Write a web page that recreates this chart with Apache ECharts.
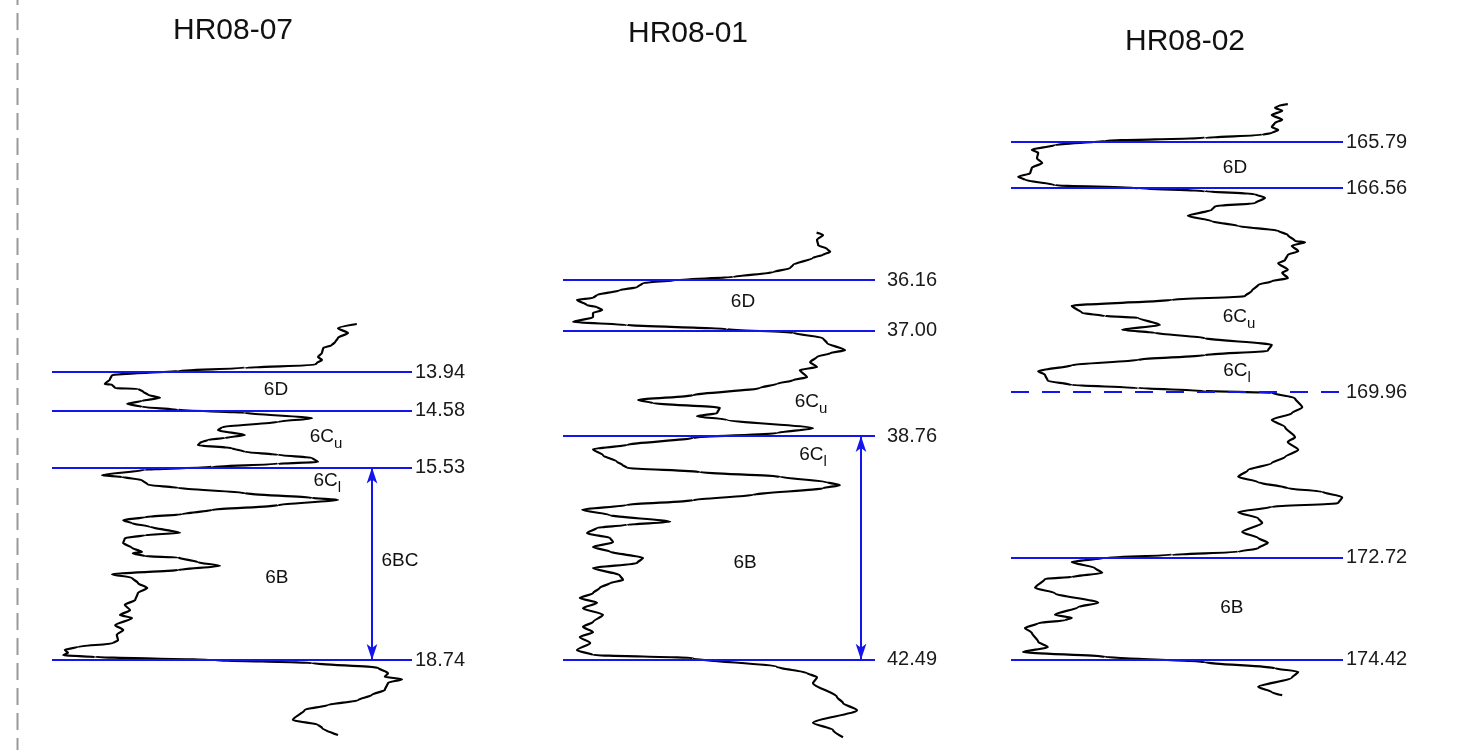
<!DOCTYPE html>
<html>
<head>
<meta charset="utf-8">
<script src="https://cdn.jsdelivr.net/npm/echarts@6/dist/echarts.min.js"></script>
<style>
  html, body { margin: 0; padding: 0; background: #ffffff; }
  #chart { width: 1470px; height: 750px; }
</style>
</head>
<body>
<div id="chart"></div>
<script>
// Core names, left to right
const coreNames = ['HR08-07', 'HR08-01', 'HR08-02'];

// Down-core logs: [value, depth (m)]
const hr0807Log = [
  [76.2,13.14],[71.5,13.21],[74.0,13.29],[71.5,13.37],[70.8,13.44],[70.0,13.49],[67.8,13.54],
  [67.5,13.62],[66.5,13.69],[67.5,13.74],[66.2,13.79],[65.8,13.82],[48.2,13.87],[31.5,13.92],
  [15.0,13.99],[14.5,14.06],[13.2,14.14],[15.0,14.15],[15.8,14.21],[21.5,14.22],[22.8,14.27],
  [24.0,14.32],[27.0,14.37],[22.5,14.42],[18.8,14.47],[22.5,14.52],[31.5,14.57],[48.2,14.62],
  [65.0,14.71],[56.5,14.77],[42.5,14.86],[41.5,14.91],[48.2,14.99],[43.2,15.04],[39.0,15.07],
  [37.0,15.12],[36.5,15.16],[45.0,15.21],[48.2,15.27],[56.5,15.32],[65.0,15.37],[66.5,15.44],
  [56.5,15.47],[40.0,15.52],[23.2,15.57],[12.5,15.66],[17.5,15.69],[22.5,15.74],[24.0,15.82],
  [31.5,15.87],[48.2,15.96],[65.0,16.04],[71.5,16.07],[56.5,16.16],[40.0,16.24],[32.5,16.31],
  [23.2,16.36],[17.8,16.41],[20.0,16.46],[24.5,16.52],[32.0,16.62],[23.2,16.66],[18.2,16.71],
  [17.8,16.79],[20.0,16.87],[22.5,16.94],[20.2,16.96],[23.2,17.01],[31.5,17.03],[36.5,17.11],
  [42.0,17.17],[31.5,17.24],[15.0,17.31],[20.0,17.37],[21.5,17.46],[23.8,17.54],[21.5,17.62],
  [20.8,17.74],[18.2,17.82],[19.5,17.91],[17.0,17.99],[20.0,18.04],[15.8,18.16],[17.8,18.24],
  [16.2,18.32],[16.5,18.41],[15.2,18.46],[6.5,18.52],[3.2,18.57],[4.0,18.62],[2.8,18.66],
  [10.8,18.69],[40.0,18.74],[65.0,18.79],[81.5,18.87],[84.0,18.96],[83.2,19.02],[87.5,19.06],
  [84.0,19.12],[83.2,19.24],[80.0,19.32],[76.5,19.41],[69.0,19.49],[63.2,19.57],[60.2,19.74],
  [66.5,19.82],[67.5,19.87],[71.5,19.99]
];

const hr0801Log = [
  [63.4,35.37],[65.0,35.41],[63.5,35.49],[63.8,35.58],[66.0,35.64],[66.8,35.69],[65.0,35.74],
  [62.5,35.79],[57.5,35.91],[56.8,35.96],[52.5,36.03],[42.5,36.11],[28.5,36.16],[20.0,36.21],
  [18.5,36.28],[14.2,36.33],[8.5,36.41],[7.5,36.46],[3.5,36.49],[6.0,36.58],[8.5,36.61],
  [9.8,36.66],[7.5,36.71],[7.5,36.78],[2.5,36.86],[16.0,36.91],[41.0,36.98],[57.5,37.04],
  [65.0,37.13],[66.0,37.21],[70.5,37.33],[66.8,37.38],[63.5,37.44],[61.8,37.53],[63.5,37.61],
  [59.2,37.66],[61.0,37.78],[57.5,37.83],[53.5,37.89],[49.2,37.96],[32.5,38.08],[18.8,38.16],
  [22.5,38.21],[39.2,38.29],[38.5,38.38],[33.5,38.43],[41.0,38.49],[62.5,38.63],[53.5,38.71],
  [32.5,38.79],[16.0,38.91],[7.5,38.98],[10.0,39.08],[13.5,39.19],[14.8,39.24],[16.0,39.29],
  [34.2,39.36],[54.2,39.44],[66.0,39.53],[69.2,39.58],[65.0,39.63],[47.5,39.74],[32.5,39.83],
  [16.0,39.91],[4.8,39.99],[11.8,40.08],[26.8,40.19],[16.0,40.24],[8.5,40.29],[6.0,40.38],
  [11.8,40.46],[12.5,40.53],[7.5,40.61],[11.8,40.69],[20.0,40.79],[18.5,40.88],[7.5,40.96],
  [14.2,41.08],[15.0,41.16],[11.8,41.21],[9.2,41.29],[7.5,41.38],[4.2,41.46],[8.5,41.54],
  [5.0,41.63],[10.0,41.74],[7.5,41.86],[5.0,41.94],[7.5,42.03],[4.2,42.11],[6.8,42.21],
  [3.5,42.33],[7.5,42.41],[32.5,42.46],[53.5,42.61],[61.0,42.71],[63.5,42.78],[62.5,42.88],
  [68.5,43.11],[70.0,43.21],[73.5,43.33],[62.5,43.54],[67.5,43.66],[70.0,43.78]
];

const hr0802Log = [
  [69.2,165.16],[66.8,165.19],[66.0,165.22],[67.8,165.27],[65.2,165.34],[67.8,165.42],[66.0,165.47],
  [65.2,165.54],[66.8,165.59],[65.2,165.64],[62.8,165.67],[48.5,165.72],[23.5,165.77],[11.0,165.84],
  [5.2,165.92],[6.8,165.97],[6.5,166.06],[7.8,166.14],[5.2,166.22],[4.8,166.31],[1.8,166.37],
  [3.5,166.42],[11.0,166.51],[31.8,166.56],[48.5,166.61],[61.0,166.66],[63.5,166.72],[61.0,166.81],
  [51.0,166.86],[50.2,166.92],[44.2,167.02],[50.2,167.11],[56.8,167.19],[66.8,167.27],[69.2,167.34],
  [71.0,167.44],[73.5,167.46],[70.2,167.52],[71.8,167.61],[69.2,167.67],[68.5,167.76],[66.8,167.81],
  [69.2,167.92],[67.8,167.97],[69.2,168.06],[65.2,168.11],[61.8,168.17],[60.2,168.27],[58.5,168.36],
  [40.2,168.42],[15.2,168.52],[17.8,168.64],[23.5,168.69],[31.8,168.72],[37.2,168.84],[27.8,168.92],
  [36.0,168.97],[48.5,169.06],[65.2,169.17],[64.2,169.27],[48.5,169.34],[31.8,169.42],[15.2,169.51],
  [6.8,169.61],[8.5,169.67],[9.2,169.77],[15.2,169.84],[31.8,169.89],[48.5,169.94],[65.2,169.97],
  [71.0,170.06],[72.8,170.21],[70.2,170.31],[65.2,170.42],[68.5,170.54],[71.0,170.71],[69.2,170.79],
  [71.8,170.92],[68.5,171.04],[65.2,171.14],[59.2,171.26],[56.8,171.37],[61.8,171.46],[69.2,171.56],
  [77.8,171.62],[82.8,171.71],[81.8,171.81],[65.2,171.87],[56.8,171.96],[61.8,172.06],[62.8,172.14],
  [57.8,172.29],[61.8,172.39],[64.2,172.47],[61.8,172.56],[56.8,172.62],[40.2,172.67],[23.5,172.72],
  [15.2,172.79],[21.0,172.89],[22.8,172.97],[15.2,173.04],[8.5,173.07],[6.0,173.22],[11.0,173.31],
  [21.8,173.47],[16.8,173.54],[11.0,173.67],[15.2,173.72],[13.5,173.76],[6.8,173.81],[3.5,173.89],
  [5.2,173.97],[6.8,174.12],[9.2,174.21],[3.0,174.29],[23.5,174.37],[48.5,174.46],[66.0,174.56],
  [71.8,174.62],[70.2,174.72],[61.8,174.87],[65.2,174.96],[67.8,175.01]
];

// Horizon depths (m)
const hr0807Horizons = [13.94, 14.58, 15.53, 18.74];
const hr0801Horizons = [36.16, 37.00, 38.76, 42.49];
const hr0802Horizons = [165.79, 166.56, 169.96, 172.72, 174.42];
const dashedHorizons = [169.96];

// Unit names: [label, value, depth]; "_" marks a subscript
const hr0807Units = [['6D',56,14.27],['6C_u',68.5,15.06],['6C_l',68.8,15.79],['6B',56.2,17.41],['6BC',87,17.12]];
const hr0801Units = [['6D',45,36.56],['6C_u',62,38.23],['6C_l',62.5,39.11],['6B',45.5,40.91],['6BC',81.5,40.91]];
const hr0802Units = [['6D',56,166.26],['6C_u',57,168.74],['6C_l',56.5,169.64],['6B',55.2,173.59]];

// 6BC interval arrows: [value, top depth, bottom depth]
const hr0807Span = [80, 15.53, 18.74];
const hr0801Span = [74.5, 38.76, 42.49];

const logs = [hr0807Log, hr0801Log, hr0802Log];
const horizons = [hr0807Horizons, hr0801Horizons, hr0802Horizons];
const units = [hr0807Units, hr0801Units, hr0802Units];
const spans = [hr0807Span, hr0801Span, null];

// Panel layout: every core shares the same depth scale (px per metre)
const PX_PER_M = 60;
const panels = [
  { left: 52,   width: 360, xMax: 90, yMin: 13.0,  yMax: 20.1,  top: 315.6, gap: 3,  tx: 173,  ty: 16 },
  { left: 563,  width: 312, xMax: 78, yMin: 35.3,  yMax: 43.9,  top: 228.4, gap: 12, tx: 628,  ty: 19 },
  { left: 1011, width: 332, xMax: 83, yMin: 165.0, yMax: 175.1, top: 94.6,  gap: 3,  tx: 1125, ty: 27 }
];

const FONT = '"Liberation Sans", Arial, Helvetica, sans-serif';
const BLUE = '#1414ee';
const INK = '#111111';

const grids = [], xAxes = [], yAxes = [], series = [], titles = [];

panels.forEach((p, i) => {
  grids.push({ left: p.left, top: p.top, width: p.width, height: (p.yMax - p.yMin) * PX_PER_M });
  xAxes.push({ type: 'value', gridIndex: i, min: 0, max: p.xMax, show: false });
  yAxes.push({ type: 'value', gridIndex: i, min: p.yMin, max: p.yMax, inverse: true, show: false });
  titles.push({
    text: coreNames[i], left: p.tx, top: p.ty, padding: 0,
    textStyle: { fontFamily: FONT, fontSize: 30, fontWeight: 'normal', color: INK }
  });

  // horizons and unit names
  series.push({
    type: 'scatter', xAxisIndex: i, yAxisIndex: i, z: 1, silent: true,
    symbolSize: 1, itemStyle: { color: 'rgba(0,0,0,0)', opacity: 1 },
    data: units[i].map(u => ({ name: u[0], value: [u[1], u[2]] })),
    label: {
      show: true, position: ['50%', '50%'], align: 'center', verticalAlign: 'middle',
      color: INK, textBorderWidth: 0, opacity: 1,
      formatter: prm => {
        const parts = prm.name.split('_');
        return parts.length > 1 ? '{m|' + parts[0] + '}{s|' + parts[1] + '}' : '{m|' + parts[0] + '}';
      },
      rich: {
        m: { fontFamily: FONT, fontSize: 19, color: INK, textBorderWidth: 0, lineHeight: 24, verticalAlign: 'top' },
        s: { fontFamily: FONT, fontSize: 15, color: INK, textBorderWidth: 0, lineHeight: 15, verticalAlign: 'bottom' }
      }
    },
    markLine: {
      silent: true, symbol: ['none', 'none'], animation: false,
      data: horizons[i].map(d => ({
        yAxis: d,
        lineStyle: { color: BLUE, width: 2, opacity: 1, type: dashedHorizons.includes(d) ? [18, 13] : 'solid' }
      })),
      label: {
        show: true, position: 'end', distance: p.gap,
        fontFamily: FONT, fontSize: 20, color: '#1a1a1a',
        formatter: prm => Number(prm.value).toFixed(2)
      }
    }
  });

  // 6BC double arrow
  if (spans[i]) {
    const s = spans[i];
    series.push({
      type: 'line', xAxisIndex: i, yAxisIndex: i, data: [], z: 1,
      markLine: {
        silent: true, animation: false,
        symbol: ['arrow', 'arrow'], symbolSize: [8, 16],
        lineStyle: { color: BLUE, width: 2, type: 'solid' },
        label: { show: false },
        data: [[{ coord: [s[0], s[1]] }, { coord: [s[0], s[2]] }]]
      }
    });
  }

  // the log trace
  series.push({
    type: 'line', xAxisIndex: i, yAxisIndex: i, z: 3, silent: true,
    data: logs[i], showSymbol: false, clip: false,
    smooth: 0.25, smoothMonotone: 'y',
    lineStyle: { color: '#000000', width: 2.2 }
  });
});

const chart = echarts.init(document.getElementById('chart'), null, { renderer: 'canvas' });
chart.setOption({
  animation: false,
  backgroundColor: '#ffffff',
  title: titles,
  grid: grids,
  xAxis: xAxes,
  yAxis: yAxes,
  series: series,
  graphic: [{
    type: 'line', silent: true,
    shape: { x1: 17.5, y1: 0, x2: 17.5, y2: 750 },
    style: { stroke: '#999999', lineWidth: 2, lineDash: [17, 8], lineDashOffset: 12 }
  }]
});
</script>
</body>
</html>
